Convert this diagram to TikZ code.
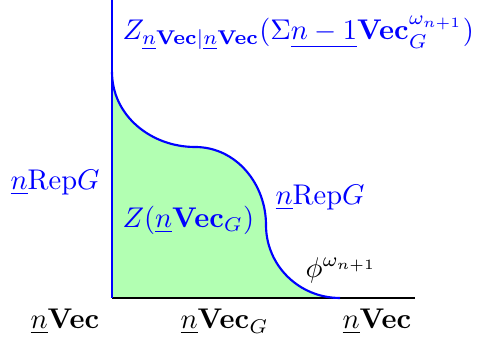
\documentclass[tikz,border=0pt]{standalone}
\usepackage{amsmath}
\begin{document}
\begin{tikzpicture}[x=0.351pt,y=0.351pt,
  bluelbl/.style={text=blue,inner sep=0pt},
  blacklbl/.style={text=black,inner sep=0pt},
  bline/.style={draw=blue,line width=0.75pt}]
\useasboundingbox (0,0) rectangle (477,342);
\coordinate (top) at (112,342);
\coordinate (o) at (112,44);
\coordinate (c1) at (112,270);
\coordinate (c2) at (195,195);
\coordinate (c3) at (266,117);
\coordinate (c4) at (340,44);
\coordinate (xend) at (415,44);
\fill[green!30] (o) -- (c1) to[out=-90,in=180] (c2) to[out=0,in=90] (c3) to[out=-90,in=180] (c4) -- cycle;
\draw[black,line width=0.75pt] (o) -- (xend);
\draw[bline] (top) -- (o);
\draw[bline] (c1) to[out=-90,in=180] (c2) to[out=0,in=90] (c3) to[out=-90,in=180] (c4);
\node[bluelbl,anchor=west] (ztop) at (122,309) {$Z_{\underline{n}\mathbf{Vec}|\underline{n}\mathbf{Vec}}(\Sigma\underline{n-1}\mathbf{Vec}_G^{\omega_{n+1}})$};
\node[bluelbl,anchor=west] (repl) at (10,159) {$\underline{n}\mathrm{Rep}G$};
\node[bluelbl,anchor=west] (repr) at (275,144) {$\underline{n}\mathrm{Rep}G$};
\node[bluelbl,anchor=west] (zin) at (122,122) {$Z(\underline{n}\mathbf{Vec}_G)$};
\node[blacklbl,anchor=west] (phi) at (305,72) {$\phi^{\omega_{n+1}}$};
\node[blacklbl,anchor=west] (v1) at (30,20) {$\underline{n}\mathbf{Vec}$};
\node[blacklbl,anchor=west] (v2) at (180,20) {$\underline{n}\mathbf{Vec}_G$};
\node[blacklbl,anchor=west] (v3) at (342,20) {$\underline{n}\mathbf{Vec}$};
\end{tikzpicture}
\end{document}
